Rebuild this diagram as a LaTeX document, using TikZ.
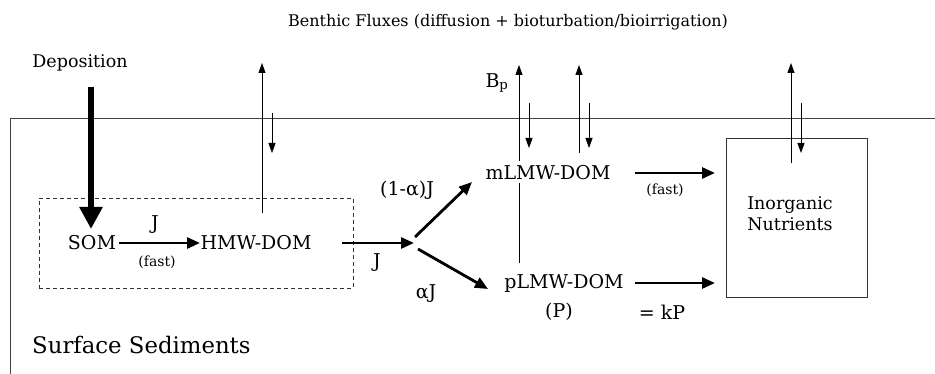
\documentclass[tikz,border=0pt]{standalone}
\usepackage{fontspec}
\setmainfont{DejaVu Serif}
\usetikzlibrary{arrows.meta}
\begin{document}
\begin{tikzpicture}[x=1pt,y=-1pt,
  lbl/.style={font=\fontsize{19}{22}\selectfont, inner sep=0pt},
  midlbl/.style={font=\fontsize{17.5}{21}\selectfont, inner sep=0pt},
  titlelbl/.style={font=\fontsize{16}{19}\selectfont, inner sep=0pt},
  smalllbl/.style={font=\fontsize{14}{16}\selectfont, inner sep=0pt},
  biglbl/.style={font=\fontsize{22.8}{27}\selectfont, inner sep=0pt},
  thinarrow/.style={line width=0.9pt, -{Triangle[length=10pt,width=7pt]}},
  flowarrow/.style={line width=2.8pt, -{Triangle[length=13pt,width=11pt]}},
  deparrow/.style={line width=6.5pt, -{Triangle[length=22pt,width=22pt]}},
  framestyle/.style={draw=black!75, line width=1pt},
  poolbox/.style={draw=black!80, line width=0.9pt, dash pattern=on 4pt off 3pt},
  nutbox/.style={draw=black!80, line width=1pt}
]
\useasboundingbox (0,0) rectangle (935,374);
\fill[white] (0,0) rectangle (935,374);

% frame of the sediment layer
\coordinate (frbl) at (10,374);
\coordinate (frtl) at (10,119);
\coordinate (frtr) at (935,119);
\draw[framestyle] (frbl) -- (frtl) -- (frtr);

% texts
\node[titlelbl] (title) at (508,22) {Benthic Fluxes (diffusion + bioturbation/bioirrigation)};
\node[midlbl] (dep) at (80,63) {Deposition};
\node[biglbl, anchor=west] (surf) at (32,345) {Surface Sediments};

% dashed pool box
\node[poolbox, minimum width=314pt, minimum height=90pt] (pool) at (196,243) {};

% nodes
\node[lbl] (som) at (92,243) {SOM};
\node[lbl] (hmw) at (256,243) {HMW-DOM};
\node[lbl] (mlmw) at (548,173) {mLMW-DOM};
\node[lbl] (plmw) at (564,283) {pLMW-DOM};
\node[nutbox, minimum width=141pt, minimum height=159pt] (inorg) at (796.5,218.5) {};
\node[midlbl, align=center] (inorgtext) at (790,214) {Inorganic\\Nutrients};

% labels
\node[lbl] (jone) at (155,225) {J};
\node[smalllbl] (fastone) at (157,262) {(fast)};
\node[lbl] (jtwo) at (377,263) {J};
\node[lbl] (oneminus) at (407,190) {(1-α)J};
\node[lbl] (alphaj) at (426,294) {αJ};
\node[lbl] (bp) at (497,83) {B$_{\mathrm{p}}$};
\node[smalllbl] (fasttwo) at (665,190) {(fast)};
\node[lbl] (pp) at (559,312) {(P)};
\node[lbl] (kp) at (662,312) {= kP};

% deposition
\coordinate (deptop) at (91,87);
\coordinate (deptip) at (91,229);
\draw[deparrow] (deptop) -- (deptip);

% main flow
\coordinate (somout) at (119,243);
\coordinate (hmwin) at (200,243);
\coordinate (hmwout) at (342,243);
\coordinate (jn) at (414,243);
\draw[flowarrow] (somout) -- (hmwin);
\draw[flowarrow] (hmwout) -- (jn);
\coordinate (upstart) at (415,237);
\coordinate (upend) at (472,182);
\coordinate (downstart) at (418,249);
\coordinate (downend) at (488,289);
\draw[flowarrow] (upstart) -- (upend);
\draw[flowarrow] (downstart) -- (downend);

\coordinate (mout) at (635,173);
\coordinate (min) at (715,173);
\coordinate (pout) at (635,283);
\coordinate (pin) at (715,283);
\draw[flowarrow] (mout) -- (min);
\draw[flowarrow] (pout) -- (pin);

% benthic fluxes: HMW-DOM
\coordinate (hup0) at (262,213);
\coordinate (hup1) at (262,63);
\coordinate (hdn0) at (272,113);
\coordinate (hdn1) at (272,153);
\draw[thinarrow] (hup0) -- (hup1);
\draw[thinarrow] (hdn0) -- (hdn1);

% benthic fluxes: pLMW / mLMW
\coordinate (pline0) at (519,263);
\coordinate (pline1) at (519,183);
\coordinate (pup0) at (519,161);
\coordinate (pup1) at (519,65);
\draw[line width=0.9pt] (pline0) -- (pline1);
\draw[thinarrow] (pup0) -- (pup1);
\coordinate (pdn0) at (529,103);
\coordinate (pdn1) at (529,148);
\draw[thinarrow] (pdn0) -- (pdn1);
\coordinate (mup0) at (579,153);
\coordinate (mup1) at (579,65);
\draw[thinarrow] (mup0) -- (mup1);
\coordinate (mdn0) at (589,103);
\coordinate (mdn1) at (589,148);
\draw[thinarrow] (mdn0) -- (mdn1);

% benthic fluxes: inorganic nutrients
\coordinate (iup0) at (791,163);
\coordinate (iup1) at (791,63);
\coordinate (idn0) at (801,103);
\coordinate (idn1) at (801,153);
\draw[thinarrow] (iup0) -- (iup1);
\draw[thinarrow] (idn0) -- (idn1);
\end{tikzpicture}
\end{document}
